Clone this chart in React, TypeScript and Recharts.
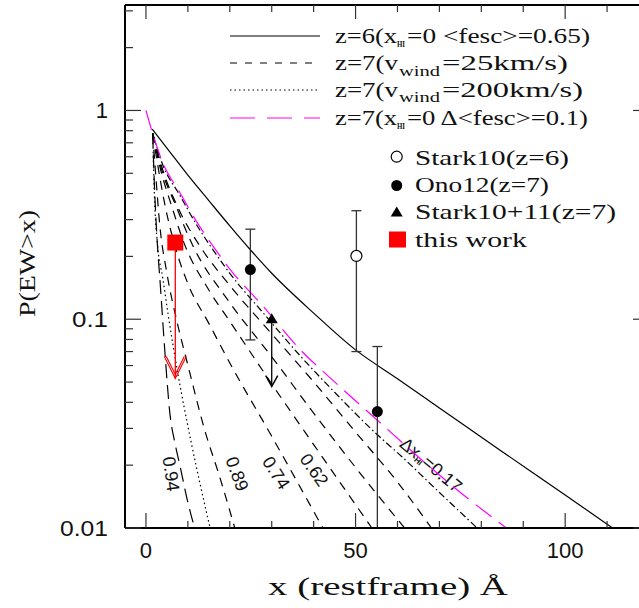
import React from 'react';
import { ComposedChart, ErrorBar, Line, Scatter, XAxis, YAxis } from 'recharts';

const SERIF = '"Liberation Serif", serif';
const SANS = '"Liberation Sans", sans-serif';
const TICK_COLOR = '#333';
const MAGENTA = '#ff00ff';

// axis ticks
const X_TICKS = [0, 10, 20, 30, 40, 50, 60, 70, 80, 90, 100, 110, 120];
const X_MAJOR = [0, 50, 100];
const Y_TICKS = [
  0.01, 0.02, 0.03, 0.04, 0.05, 0.06, 0.07, 0.08, 0.09,
  0.1, 0.2, 0.3, 0.4, 0.5, 0.6, 0.7, 0.8, 0.9,
  1, 2, 3,
];
const Y_MAJOR = [0.01, 0.1, 1];

// model curves, P(EW>x)
const Z6_FESC065 = [
  { x: 1.5, y: 0.813 }, { x: 5, y: 0.66 }, { x: 10, y: 0.49 }, { x: 15, y: 0.37 },
  { x: 20, y: 0.28 }, { x: 25, y: 0.214 }, { x: 30, y: 0.166 }, { x: 40, y: 0.107 },
  { x: 50, y: 0.0713 }, { x: 60, y: 0.0519 }, { x: 70, y: 0.0376 }, { x: 85, y: 0.0232 },
  { x: 100, y: 0.0144 }, { x: 111.3, y: 0.01 },
];
const Z7_DFESC01 = [
  { x: 0, y: 1 }, { x: 1.6, y: 0.776 }, { x: 4, y: 0.562 }, { x: 8, y: 0.407 },
  { x: 12, y: 0.295 }, { x: 16, y: 0.224 }, { x: 20, y: 0.174 }, { x: 28, y: 0.115 },
  { x: 37, y: 0.0708 }, { x: 45, y: 0.0501 }, { x: 55, y: 0.0331 }, { x: 65, y: 0.0219 },
  { x: 75, y: 0.0148 }, { x: 86, y: 0.01 },
];
const Z7_DXHI017 = [
  { x: 1.6, y: 0.776 }, { x: 4, y: 0.55 }, { x: 8, y: 0.395 }, { x: 12, y: 0.285 },
  { x: 16, y: 0.215 }, { x: 20, y: 0.166 }, { x: 28, y: 0.107 }, { x: 37, y: 0.0661 },
  { x: 45, y: 0.0447 }, { x: 55, y: 0.0282 }, { x: 61, y: 0.022 }, { x: 70, y: 0.0148 },
  { x: 79, y: 0.01 },
];
const VW200 = [
  { x: 1.6, y: 0.776 }, { x: 2.0, y: 0.398 }, { x: 2.8, y: 0.224 }, { x: 4, y: 0.158 },
  { x: 5.3, y: 0.105 }, { x: 7.7, y: 0.0537 }, { x: 10.9, y: 0.0251 }, { x: 15.3, y: 0.01 },
];
const VW25_XHI094 = [
  { x: 1.6, y: 0.776 }, { x: 2.0, y: 0.447 }, { x: 2.6, y: 0.251 }, { x: 3.4, y: 0.148 },
  { x: 4.6, y: 0.0661 }, { x: 5.7, y: 0.0355 }, { x: 7, y: 0.0251 }, { x: 8.2, y: 0.0195 },
  { x: 9.8, y: 0.0138 }, { x: 11.6, y: 0.01 },
];
const VW25_XHI089 = [
  { x: 1.6, y: 0.776 }, { x: 2.3, y: 0.501 }, { x: 3.3, y: 0.282 }, { x: 5, y: 0.166 },
  { x: 7.5, y: 0.0955 }, { x: 10, y: 0.0603 }, { x: 14, y: 0.0295 }, { x: 17.5, y: 0.0178 },
  { x: 21.2, y: 0.01 },
];
const VW25_XHI074 = [
  { x: 1.6, y: 0.776 }, { x: 3, y: 0.52 }, { x: 4.5, y: 0.355 }, { x: 6.5, y: 0.24 },
  { x: 10, y: 0.148 }, { x: 15, y: 0.0955 }, { x: 20, y: 0.0617 }, { x: 30, y: 0.0275 },
  { x: 42.2, y: 0.01 },
];
const VW25_XHI062 = [
  { x: 1.6, y: 0.776 }, { x: 3.5, y: 0.52 }, { x: 6, y: 0.355 }, { x: 9, y: 0.234 },
  { x: 15, y: 0.138 }, { x: 20, y: 0.0977 }, { x: 30, y: 0.049 }, { x: 40, y: 0.0251 },
  { x: 53.9, y: 0.01 },
];
const VW25_XHI_A = [
  { x: 1.6, y: 0.776 }, { x: 4, y: 0.501 }, { x: 7, y: 0.355 }, { x: 11, y: 0.229 },
  { x: 20, y: 0.12 }, { x: 30, y: 0.0661 }, { x: 40, y: 0.0355 }, { x: 50, y: 0.0195 },
  { x: 61.7, y: 0.01 },
];
const VW25_XHI_B = [
  { x: 1.6, y: 0.776 }, { x: 4, y: 0.52 }, { x: 8, y: 0.331 }, { x: 13, y: 0.222 },
  { x: 20, y: 0.145 }, { x: 30, y: 0.0851 }, { x: 40, y: 0.0501 }, { x: 50, y: 0.0288 },
  { x: 60, y: 0.0166 }, { x: 68.1, y: 0.01 },
];

// observations
const STARK10_Z6 = [{ x: 50.2, y: 0.201, lo: 0.07, hi: 0.331 }];
const ONO12_Z7 = [
  { x: 24.9, y: 0.173, lo: 0.0796, hi: 0.27 },
  { x: 55.2, y: 0.0361, lo: 0.01, hi: 0.074 },
];
const STARK1011_Z7 = [{ x: 30, y: 0.1, tip: 0.0476 }];
const THIS_WORK = [{ x: 7, y: 0.233, tip: 0.052 }];

const FAN_DASH = '9 7';
const CURVES = [
  { id: 'xhi094', data: VW25_XHI094, stroke: '#000', dash: '14 7' },
  { id: 'vw200', data: VW200, stroke: '#000', dash: '1.5 3' },
  { id: 'xhi089', data: VW25_XHI089, stroke: '#000', dash: FAN_DASH },
  { id: 'xhi074', data: VW25_XHI074, stroke: '#000', dash: FAN_DASH },
  { id: 'xhi062', data: VW25_XHI062, stroke: '#000', dash: FAN_DASH },
  { id: 'xhiA', data: VW25_XHI_A, stroke: '#000', dash: FAN_DASH },
  { id: 'xhiB', data: VW25_XHI_B, stroke: '#000', dash: FAN_DASH },
  { id: 'dxhi', data: Z7_DXHI017, stroke: '#000', dash: '7 3 1.5 3' },
  { id: 'z6', data: Z6_FESC065, stroke: '#000', dash: undefined },
  { id: 'dfesc', data: Z7_DFESC01, stroke: MAGENTA, dash: '20 9' },
];

const withErr = (pts: { x: number; y: number; lo: number; hi: number }[]) =>
  pts.map((p) => ({ x: p.x, y: p.y, err: [p.y - p.lo, p.hi - p.y] }));

function BottomTick(props: any) {
  const { x, y, payload } = props;
  const major = X_MAJOR.includes(payload.value);
  return (
    <g>
      <line x1={x} x2={x} y1={y} y2={y - (major ? 15 : 7)} stroke={TICK_COLOR} strokeWidth={1.2} />
      {major && (
        <text x={x} y={y + 30} textAnchor="middle" fontFamily={SANS} fontSize={22} fill="#111">
          {payload.value}
        </text>
      )}
    </g>
  );
}

function TopTick(props: any) {
  const { x, y, payload } = props;
  const major = X_MAJOR.includes(payload.value);
  return <line x1={x} x2={x} y1={y} y2={y + (major ? 14 : 7)} stroke={TICK_COLOR} strokeWidth={1.2} />;
}

function LeftTick(props: any) {
  const { x, y, payload } = props;
  const major = Y_MAJOR.includes(payload.value);
  const label = String(payload.value);
  return (
    <g>
      <line x1={x} x2={x + (major ? 16 : 8)} y1={y} y2={y} stroke={TICK_COLOR} strokeWidth={1.2} />
      {major && (
        <text x={x - 17} y={y + 8} textAnchor="end" fontFamily={SANS} fontSize={22} fill="#111"
          textLength={label.length === 1 ? undefined : label.length * 12} lengthAdjust="spacingAndGlyphs">
          {label}
        </text>
      )}
    </g>
  );
}

function RightTick(props: any) {
  const { x, y, payload } = props;
  const major = Y_MAJOR.includes(payload.value);
  return <line x1={x} x2={x - (major ? 16 : 8)} y1={y} y2={y} stroke={TICK_COLOR} strokeWidth={1.2} />;
}

const OpenCircle = (p: any) => <circle cx={p.cx} cy={p.cy} r={5.5} fill="#fff" stroke="#000" strokeWidth={1.2} />;
const FilledCircle = (p: any) => <circle cx={p.cx} cy={p.cy} r={5.5} fill="#000" />;
const Triangle = (p: any) => (
  <path d={`M${p.cx},${p.cy - 6} L${p.cx + 6},${p.cy + 4} L${p.cx - 6},${p.cy + 4} Z`} fill="#000" />
);
const RedSquare = (p: any) => <rect x={p.cx - 8} y={p.cy - 8} width={16} height={16} fill="#ff0000" />;
const BlackHead = (p: any) => (
  <path d={`M${p.cx - 6},${p.cy - 11} L${p.cx},${p.cy} L${p.cx + 6},${p.cy - 11}`} fill="none" stroke="#000" strokeWidth={1.5} />
);
const RedHead = (p: any) => (
  <g fill="none" stroke="#ff0000" strokeWidth={1.1}>
    <path d={`M${p.cx - 11},${p.cy - 22} L${p.cx},${p.cy} L${p.cx + 11},${p.cy - 22}`} />
    <path d={`M${p.cx - 9},${p.cy - 22} L${p.cx},${p.cy - 4} L${p.cx + 9},${p.cy - 22}`} />
  </g>
);

function Annotations() {
  const t = { fontFamily: SERIF, fill: '#111' };
  const fit = { lengthAdjust: 'spacingAndGlyphs' as const };
  return (
    <g>
      {/* line legend */}
      <line x1={230} x2={320} y1={36} y2={36} stroke="#000" strokeWidth={1.2} />
      <line x1={230} x2={320} y1={63} y2={63} stroke="#000" strokeWidth={1.2} strokeDasharray="7 8" />
      <line x1={230} x2={320} y1={90} y2={90} stroke="#000" strokeWidth={1.2} strokeDasharray="1.5 3" />
      <line x1={230} x2={320} y1={118} y2={118} stroke={MAGENTA} strokeWidth={1.2} strokeDasharray="25 12" />

      <text {...t} {...fit} x={335} y={43} fontSize={21} textLength={62}>z=6(x</text>
      <text {...t} {...fit} x={397} y={47} fontSize={8} fontWeight="bold" textLength={8}>HI</text>
      <text {...t} {...fit} x={407} y={43} fontSize={21} textLength={183}>=0 &lt;fesc&gt;=0.65)</text>

      <text {...t} {...fit} x={335} y={70} fontSize={21} textLength={63}>z=7(v</text>
      <text {...t} {...fit} x={399} y={75.5} fontSize={15} textLength={41}>wind</text>
      <text {...t} {...fit} x={442} y={70} fontSize={21} textLength={126}>=25km/s)</text>

      <text {...t} {...fit} x={335} y={97} fontSize={21} textLength={63}>z=7(v</text>
      <text {...t} {...fit} x={399} y={102} fontSize={15} textLength={41}>wind</text>
      <text {...t} {...fit} x={442} y={97} fontSize={21} textLength={141}>=200km/s)</text>

      <text {...t} {...fit} x={335} y={125} fontSize={21} textLength={62}>z=7(x</text>
      <text {...t} {...fit} x={397} y={129} fontSize={8} fontWeight="bold" textLength={8}>HI</text>
      <text {...t} {...fit} x={407} y={125} fontSize={21} textLength={181}>=0 Δ&lt;fesc&gt;=0.1)</text>

      {/* point legend */}
      <OpenCircle cx={396.7} cy={156.7} />
      <FilledCircle cx={396.7} cy={185.5} />
      <Triangle cx={396.7} cy={212.5} />
      <rect x={389} y={231.5} width={17} height={16} fill="#ff0000" />
      <text {...t} {...fit} x={415} y={165} fontSize={21} textLength={154}>Stark10(z=6)</text>
      <text {...t} {...fit} x={415} y={192} fontSize={21} textLength={134}>Ono12(z=7)</text>
      <text {...t} {...fit} x={415} y={218.5} fontSize={21} textLength={201}>Stark10+11(z=7)</text>
      <text {...t} {...fit} x={415} y={246.5} fontSize={21} textLength={112}>this work</text>

      {/* curve labels */}
      <g fontFamily={SANS} fontSize={18} fill="#111" textAnchor="middle">
        <text transform="translate(171,474) rotate(82)" dominantBaseline="central">0.94</text>
        <text transform="translate(237,474) rotate(70)" dominantBaseline="central">0.89</text>
        <text transform="translate(276,473) rotate(57)" dominantBaseline="central">0.74</text>
        <text transform="translate(314,470) rotate(55)" dominantBaseline="central">0.62</text>
        <text transform="translate(431,465) rotate(40)" dominantBaseline="central">
          Δx<tspan fontSize={8} fontWeight="bold" dy={5}>HI</tspan>
          <tspan dy={-5}>=0.17</tspan>
        </text>
      </g>

      {/* axis titles */}
      <text {...t} {...fit} transform="translate(35,263.5) rotate(-90)" textAnchor="middle" fontSize={24} textLength={107}>
        P(EW&gt;x)
      </text>
      <text {...t} {...fit} x={268} y={595} fontSize={25} textLength={240}>
        x (restframe) Å
      </text>
    </g>
  );
}

export default function App() {
  return (
    <div style={{ position: 'absolute', left: 0, top: 0, width: 639, height: 608, overflow: 'hidden', background: '#fff' }}>
      <ComposedChart width={660} height={608} margin={{ top: 4, right: 10, bottom: 0, left: 0 }}>
        <XAxis
          dataKey="x" type="number" domain={[-5, 120]} allowDataOverflow ticks={X_TICKS} interval={0}
          height={80} tickSize={0} tickMargin={0} tickLine={false} stroke="#000"
          axisLine={{ stroke: '#000', strokeWidth: 2 }} tick={(p: any) => <BottomTick {...p} />}
        />
        <XAxis
          xAxisId="top" orientation="top" dataKey="x" type="number" domain={[-5, 120]} allowDataOverflow
          ticks={X_TICKS} interval={0} height={1} tickSize={0} tickMargin={0} tickLine={false} stroke="#000"
          axisLine={{ stroke: '#000', strokeWidth: 2 }} tick={(p: any) => <TopTick {...p} />}
        />
        <YAxis
          dataKey="y" type="number" scale="log" domain={[0.01, 3.2]} allowDataOverflow ticks={Y_TICKS} interval={0}
          width={125} tickSize={0} tickMargin={0} tickLine={false} stroke="#000"
          axisLine={{ stroke: '#000', strokeWidth: 2 }} tick={(p: any) => <LeftTick {...p} />}
        />
        <YAxis
          yAxisId="right" orientation="right" dataKey="y" type="number" scale="log" domain={[0.01, 3.2]}
          allowDataOverflow ticks={Y_TICKS} interval={0} width={1} tickSize={0} tickMargin={0} tickLine={false}
          stroke="#000" axisLine={{ stroke: '#000', strokeWidth: 2 }} tick={(p: any) => <RightTick {...p} />}
        />

        {CURVES.map((c) => (
          <Line
            key={c.id} data={c.data} dataKey="y" type="monotone" stroke={c.stroke} strokeWidth={1.2}
            strokeDasharray={c.dash} dot={false} activeDot={false} isAnimationActive={false}
          />
        ))}

        {[...STARK1011_Z7, ...THIS_WORK].map((p, i) => (
          <Line
            key={`shaft${i}`} data={[{ x: p.x, y: p.y }, { x: p.x, y: p.tip }]} dataKey="y" type="linear"
            stroke={i === 0 ? '#000' : '#ff0000'} strokeWidth={1.3} dot={false} activeDot={false}
            isAnimationActive={false}
          />
        ))}

        <Scatter data={withErr(STARK10_Z6)} dataKey="y" shape={OpenCircle} isAnimationActive={false}>
          <ErrorBar dataKey="err" direction="y" width={5} stroke="#333" strokeWidth={1.3} />
        </Scatter>
        <Scatter data={withErr(ONO12_Z7)} dataKey="y" shape={FilledCircle} isAnimationActive={false}>
          <ErrorBar dataKey="err" direction="y" width={5} stroke="#333" strokeWidth={1.3} />
        </Scatter>
        <Scatter data={STARK1011_Z7.map((p) => ({ x: p.x, y: p.tip }))} dataKey="y" shape={BlackHead} isAnimationActive={false} />
        <Scatter data={STARK1011_Z7} dataKey="y" shape={Triangle} isAnimationActive={false} />
        <Scatter data={THIS_WORK.map((p) => ({ x: p.x, y: p.tip }))} dataKey="y" shape={RedHead} isAnimationActive={false} />
        <Scatter data={THIS_WORK} dataKey="y" shape={RedSquare} isAnimationActive={false} />

        <Annotations />
      </ComposedChart>
    </div>
  );
}
